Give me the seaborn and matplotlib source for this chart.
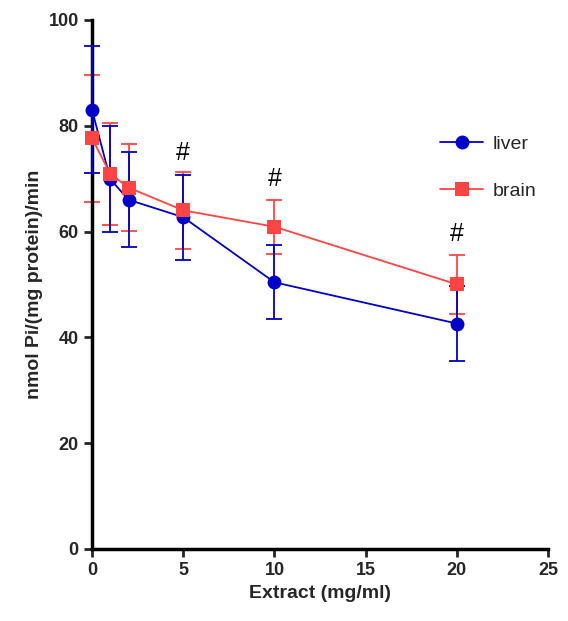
import numpy as np
import pandas as pd
import seaborn as sns
import matplotlib.pyplot as plt

# data
extract = [0, 1, 2, 5, 10, 20]
liver = [83.0, 69.9, 66.0, 62.7, 50.4, 42.6]
liver_err = [12.0, 10.0, 9.0, 8.0, 7.0, 7.1]
brain = [77.6, 70.9, 68.3, 64.0, 60.9, 50.0]
brain_err = [12.0, 9.6, 8.2, 7.3, 5.1, 5.6]
sig_x = [5, 10, 20]
sig_y = [72.5, 67.7, 57.3]

df = pd.DataFrame({
    "x": extract * 2,
    "y": liver + brain,
    "tissue": ["liver"] * len(extract) + ["brain"] * len(extract),
})

sns.set_style("ticks")
plt.rcParams['font.family'] = ['Liberation Sans', 'DejaVu Sans']
plt.rcParams['font.weight'] = 'bold'

blue = "#0000C8"
red = "#FF4444"

fig = plt.figure(figsize=(5.68, 6.21), dpi=100)
ax = fig.add_axes([0.162, 0.116, 0.803, 0.852])

# error bars first so markers sit on top
for yv, ev, c, z in [(brain, brain_err, red, 2), (liver, liver_err, blue, 3)]:
    eb = ax.errorbar(extract, yv, yerr=ev, fmt="none", ecolor=c,
                     elinewidth=1.3, capsize=6, capthick=1.3, zorder=z)
    for art in eb.get_children():
        art.set_clip_on(False)

sns.lineplot(data=df, x="x", y="y", hue="tissue", style="tissue",
             hue_order=["liver", "brain"], style_order=["liver", "brain"],
             palette={"liver": blue, "brain": red},
             markers={"liver": "o", "brain": "s"}, dashes=False,
             markersize=10, markeredgewidth=0, linewidth=1.3, ax=ax, zorder=4)
for ln in ax.lines:
    ln.set_clip_on(False)

for xx, yy in zip(sig_x, sig_y):
    ax.text(xx, yy, "#", ha="center", va="bottom", fontsize=18,
            fontweight="normal", color="black")

ax.set_xlim(0, 25)
ax.set_ylim(0, 100)
ax.set_xticks([0, 5, 10, 15, 20, 25])
ax.set_yticks([0, 20, 40, 60, 80, 100])
ax.set_xlabel("Extract (mg/ml)", fontsize=14, fontweight="bold")
ax.set_ylabel("nmol Pi/(mg protein)/min", fontsize=14, fontweight="bold")
ax.tick_params(axis="both", labelsize=13, width=2, length=6, direction="out")
for lab in ax.get_xticklabels() + ax.get_yticklabels():
    lab.set_fontweight("bold")
for s in ["left", "bottom"]:
    ax.spines[s].set_linewidth(2.5)
    ax.spines[s].set_color("black")
sns.despine(ax=ax)

leg = ax.legend(loc="upper left", bbox_to_anchor=(0.725, 0.815), frameon=False,
                fontsize=14, handlelength=2.2, labelspacing=1.5,
                handletextpad=0.5, title=None)
for t in leg.get_texts():
    t.set_fontweight("normal")

fig.savefig("out.png", dpi=100)
